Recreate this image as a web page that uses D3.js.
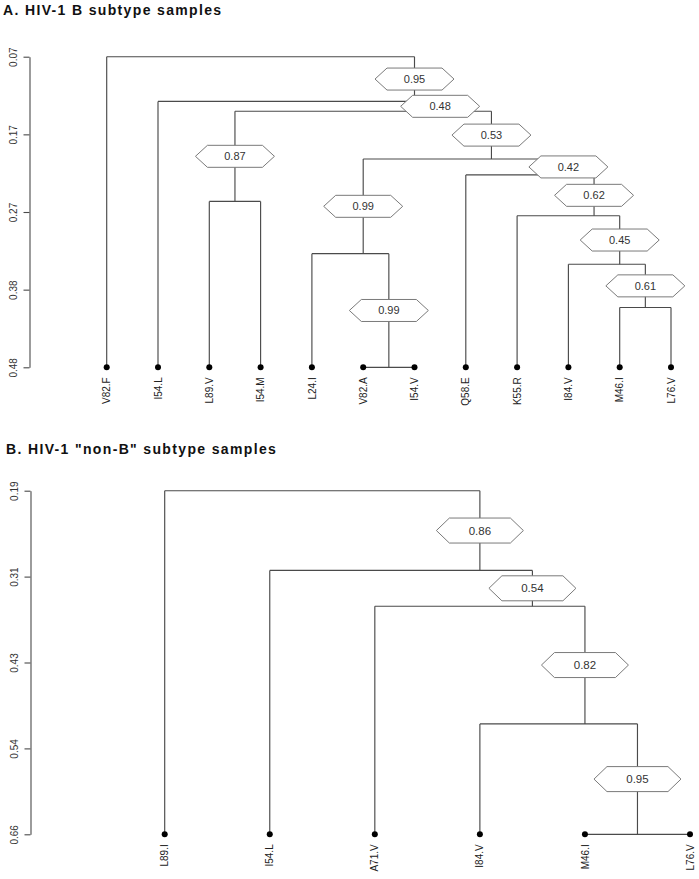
<!DOCTYPE html>
<html>
<head>
<meta charset="utf-8">
<script src="https://cdn.jsdelivr.net/npm/d3@7"></script>
<style>
  html, body { margin: 0; padding: 0; background: #fff; }
  svg { display: block; font-family: "Liberation Sans", Arial, sans-serif; }
</style>
</head>
<body>
<svg id="chart" width="699" height="879"></svg>
<script>
// ---------- Panel A data ----------
const titleA = "A. HIV-1 B subtype samples";
const leavesA = ["V82.F","I54.L","L89.V","I54.M","L24.I","V82.A","I54.V","Q58.E","K55.R","I84.V","M46.I","L76.V"];
// merges in hclust style: negative = leaf (1-based), positive = earlier merge (1-based)
const mergeLeftA  = [-6, -11, -10, -5, -9, -3, -8, 4, 6, -2, -1];
const mergeRightA = [-7, -12,   2,  1,  3, -4,  5, 7, 8,  9, 10];
const heightsA    = [0.48, 0.401, 0.344, 0.330, 0.280, 0.261, 0.226, 0.205, 0.142, 0.129, 0.07];
const supportA    = [0.99, 0.61, 0.45, 0.99, 0.62, 0.87, 0.42, 0.53, 0.48, 0.95, null];
const tickLabelsA = ["0.07","0.17","0.27","0.38","0.48"];
const domainA     = [0.07, 0.48];

// ---------- Panel B data ----------
const titleB = "B. HIV-1 \"non-B\" subtype samples";
const leavesB = ["L89.I","I54.L","A71.V","I84.V","M46.I","L76.V"];
const mergeLeftB  = [-5, -4, -3, -2, -1];
const mergeRightB = [-6,  1,  2,  3,  4];
const heightsB    = [0.66, 0.509, 0.348, 0.299, 0.19];
const supportB    = [0.95, 0.82, 0.54, 0.86, null];
const tickLabelsB = ["0.19","0.31","0.43","0.54","0.66"];
const domainB     = [0.19, 0.66];

const svg = d3.select("#chart");
const LINE = "#4a4a4a";

function drawPanel(cfg) {
  const g = svg.append("g");
  const x = d3.scalePoint().domain(cfg.leaves).range(cfg.xRange);
  const y = d3.scaleLinear().domain(cfg.domain).range(cfg.yRange);
  const leafH = cfg.domain[1];

  // title
  svg.append("text")
    .attr("x", cfg.titlePos[0]).attr("y", cfg.titlePos[1])
    .attr("font-size", 14).attr("font-weight", "bold")
    .attr("letter-spacing", "1.35px")
    .attr("fill", "#111")
    .text(cfg.title);

  // axis
  const n = cfg.tickLabels.length;
  const tickVals = d3.range(n).map(i => cfg.domain[0] + i * (cfg.domain[1] - cfg.domain[0]) / (n - 1));
  const axis = d3.axisLeft(y).tickValues(tickVals)
    .tickFormat((d, i) => cfg.tickLabels[i]).tickSize(6).tickSizeOuter(0);
  const ag = g.append("g").attr("transform", `translate(${cfg.axisX},0)`).call(axis);
  ag.select(".domain").attr("stroke", LINE).attr("stroke-width", 1.1);
  ag.selectAll(".tick line").attr("stroke", LINE).attr("stroke-width", 1.1);
  ag.selectAll(".tick text")
    .attr("transform", "rotate(-90)")
    .attr("x", 0).attr("y", -12.5).attr("dy", 0)
    .attr("text-anchor", "middle")
    .attr("font-size", 10).attr("fill", "#333")
    .attr("font-family", "\"Liberation Sans\", Arial, sans-serif");

  // nodes
  const m = cfg.left.length;
  const nodes = [];
  function childInfo(c) {
    if (c < 0) { const name = cfg.leaves[-c - 1]; return { x: x(name), h: leafH, leaves: [name] }; }
    return nodes[c - 1];
  }
  for (let i = 0; i < m; i++) {
    const L = childInfo(cfg.left[i]), R = childInfo(cfg.right[i]);
    const lv = L.leaves.concat(R.leaves);
    nodes.push({ x: d3.mean(lv, d => x(d)), h: cfg.heights[i], leaves: lv, L, R, support: cfg.support[i] });
  }
  // parent heights
  for (let i = 0; i < m; i++) {
    [cfg.left[i], cfg.right[i]].forEach(c => { if (c > 0) nodes[c - 1].parentH = nodes[i].h; });
  }

  const lines = g.append("g").attr("stroke", LINE).attr("stroke-width", 1.15).attr("fill", "none");
  nodes.forEach(nd => {
    lines.append("line").attr("x1", nd.L.x).attr("x2", nd.R.x).attr("y1", y(nd.h)).attr("y2", y(nd.h));
    [nd.L, nd.R].forEach(c => {
      if (c.h !== nd.h)
        lines.append("line").attr("x1", c.x).attr("x2", c.x).attr("y1", y(nd.h)).attr("y2", y(c.h));
    });
  });

  // leaves
  g.selectAll(".leafdot").data(cfg.leaves).join("circle")
    .attr("cx", d => x(d)).attr("cy", y(leafH)).attr("r", 3).attr("fill", "#000");
  g.selectAll(".leaflab").data(cfg.leaves).join("text")
    .attr("transform", d => `translate(${x(d) + 3.6},${y(leafH) + 10}) rotate(-90)`)
    .attr("text-anchor", "end")
    .attr("font-size", 10).attr("fill", "#222")
    .text(d => d);

  // hexagon labels
  const hw = cfg.hex[0] / 2, hh = cfg.hex[1] / 2, ins = cfg.hex[2];
  nodes.filter(nd => nd.support != null).forEach(nd => {
    const cx = nd.x, cy = (y(nd.h) + y(nd.parentH)) / 2;
    const pts = [[-hw, 0], [-hw + ins, -hh], [hw - ins, -hh], [hw, 0], [hw - ins, hh], [-hw + ins, hh]];
    const hg = g.append("g").attr("transform", `translate(${cx},${cy})`);
    hg.append("polygon").attr("points", pts.map(p => p.join(",")).join(" "))
      .attr("fill", "#fff").attr("stroke", "#7a7a7a").attr("stroke-width", 1);
    hg.append("text").attr("text-anchor", "middle").attr("dy", "0.36em")
      .attr("font-size", cfg.hexFont).attr("fill", "#333")
      .text(nd.support.toFixed(2));
  });
}

drawPanel({
  title: titleA, titlePos: [3, 15],
  leaves: leavesA, left: mergeLeftA, right: mergeRightA, heights: heightsA, support: supportA,
  tickLabels: tickLabelsA, domain: domainA,
  xRange: [106.7, 671], yRange: [56.7, 367.3], axisX: 29.5,
  hex: [79, 22, 12], hexFont: 11
});
drawPanel({
  title: titleB, titlePos: [6, 454],
  leaves: leavesB, left: mergeLeftB, right: mergeRightB, heights: heightsB, support: supportB,
  tickLabels: tickLabelsB, domain: domainB,
  xRange: [164.7, 690], yRange: [490.7, 834.3], axisX: 30.5,
  hex: [87, 25, 13], hexFont: 11.5
});
</script>
</body>
</html>
